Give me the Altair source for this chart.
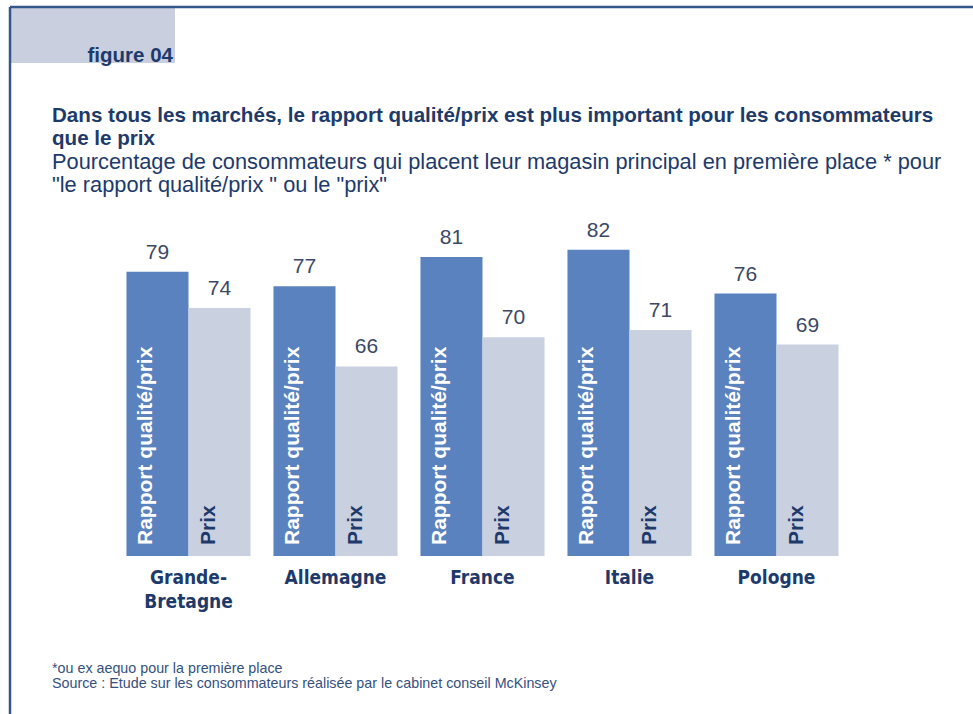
import altair as alt
import pandas as pd

countries = ["Grande-Bretagne", "Allemagne", "France", "Italie", "Pologne"]
series = ["Rapport qualité/prix", "Prix"]
rapport_values = [79, 77, 81, 82, 76]
prix_values = [74, 66, 70, 71, 69]

title_lines = [
    "Dans tous les marchés, le rapport qualité/prix est plus important pour les consommateurs",
    "que le prix",
]
subtitle_lines = [
    "Pourcentage de consommateurs qui placent leur magasin principal en première place * pour",
    "\"le rapport qualité/prix \" ou le \"prix\"",
]
footnotes = [
    "*ou ex aequo pour la première place",
    "Source : Etude sur les consommateurs réalisée par le cabinet conseil McKinsey",
]

NAVY = "#1d3a6b"
DARK = "#5a82bf"
LIGHT = "#c9d0e0"
SANS = "Liberation Sans, Arial, sans-serif"
COND = "Liberation Sans Narrow, DejaVu Sans Condensed, Arial Narrow, sans-serif"

rows = []
for c, r, p in zip(countries, rapport_values, prix_values):
    rows.append({"country": c, "series": series[0], "value": r})
    rows.append({"country": c, "series": series[1], "value": p})
df = pd.DataFrame(rows)

W, H = 735, 350
PL, PT = 115, 206
YMIN, YMAX = 40, 88

x = alt.X("country:N", sort=countries,
          scale=alt.Scale(paddingInner=0.156, paddingOuter=0.078),
          axis=alt.Axis(title=None, domain=False, ticks=False, labelAngle=0,
                        labelFont=COND, labelFontWeight="bold", labelFontSize=19,
                        labelColor=NAVY, labelPadding=12, labelLineHeight=24,
                        labelExpr="datum.label == 'Grande-Bretagne' ? ['Grande-', 'Bretagne'] : datum.label"))
xo = alt.XOffset("series:N", sort=series, scale=alt.Scale(paddingInner=0, paddingOuter=0))
yscale = alt.Scale(domain=[YMIN, YMAX], zero=False, nice=False)

base = alt.Chart(df)

bars = base.mark_bar().encode(
    x=x, xOffset=xo,
    y=alt.Y("value:Q", scale=yscale, axis=None),
    y2=alt.datum(YMIN),
    color=alt.Color("series:N", sort=series,
                    scale=alt.Scale(domain=series, range=[DARK, LIGHT]), legend=None),
)

values = base.mark_text(baseline="bottom", dy=-9, fontSize=21,
                        font=SANS, color="#3b4866").encode(
    x=x, xOffset=xo, y=alt.Y("value:Q", scale=yscale), text="value:Q")

in_dark = base.transform_filter(alt.datum.series == series[0]).mark_text(
    angle=270, align="left", baseline="middle", dx=11, dy=-11,
    fontSize=21, fontWeight="bold", font=SANS,
    color="white").encode(x=x, xOffset=xo, y=alt.datum(YMIN), text="series:N")

in_light = base.transform_filter(alt.datum.series == series[1]).mark_text(
    angle=270, align="left", baseline="middle", dx=11, dy=-11,
    fontSize=21, fontWeight="bold", font=SANS,
    color=NAVY).encode(x=x, xOffset=xo, y=alt.datum(YMIN), text="series:N")

one = pd.DataFrame({"k": [0]})
deco = alt.Chart(one)


def text_at(txt, px, py, size, weight="normal", font=SANS, color=NAVY, align="left"):
    return deco.mark_text(align=align, baseline="alphabetic", fontSize=size,
                          font=font, fontWeight=weight, color=color).encode(
        x=alt.value(px - PL), y=alt.value(py - PT), text=alt.value(txt))


header_box = deco.mark_rect(color="#c9cfdf").encode(
    x=alt.value(10 - PL), x2=alt.value(175 - PL),
    y=alt.value(8 - PT), y2=alt.value(63 - PT))
frame_top = deco.mark_rule(color="#34568a", strokeWidth=2.5).encode(
    x=alt.value(10 - PL), x2=alt.value(973 - PL),
    y=alt.value(7 - PT))
frame_left = deco.mark_rule(color="#34568a", strokeWidth=2.5).encode(
    x=alt.value(10 - PL), y=alt.value(7 - PT), y2=alt.value(714 - PT))

fig_text = text_at("figure 04", 173, 62, 20.5, weight="bold", align="right")
t1 = text_at(title_lines[0], 52, 122, 20.6, weight="bold")
t2 = text_at(title_lines[1], 52, 145, 20.6, weight="bold")
s1 = text_at(subtitle_lines[0], 52, 169, 21.8)
s2 = text_at(subtitle_lines[1], 52, 192, 21.8)
foot1 = text_at(footnotes[0], 52, 673, 14.3, color="#35507e")
foot2 = text_at(footnotes[1], 52, 688, 14.3, color="#35507e")

chart = alt.layer(header_box, frame_top, frame_left, fig_text, t1, t2, s1, s2,
                  bars, values, in_dark, in_light, foot1, foot2).properties(
    width=W, height=H,
    autosize=alt.AutoSizeParams(type="none"),
    padding={"left": PL, "top": PT, "right": 973 - PL - W, "bottom": 714 - PT - H},
    background="white",
).configure_view(stroke=None)

chart.save("out.html", embed_options={"renderer": "svg", "actions": False})
